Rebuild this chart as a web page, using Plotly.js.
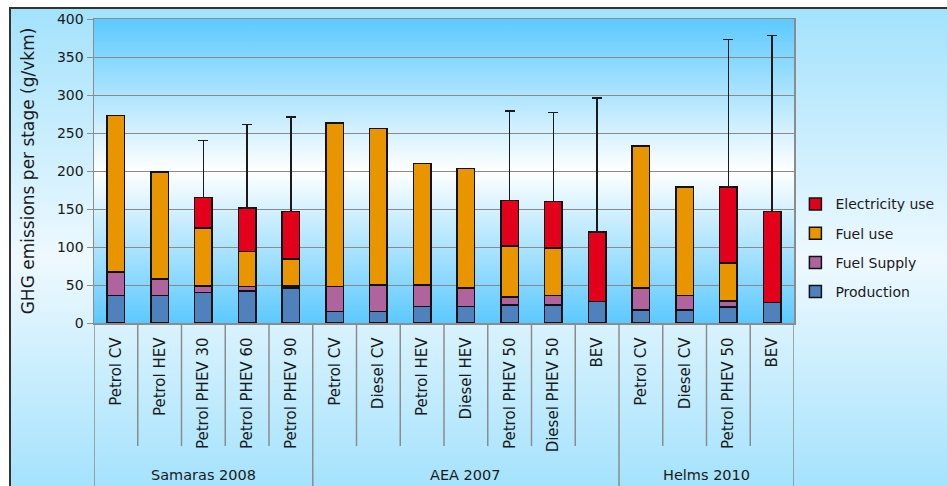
<!DOCTYPE html>
<html>
<head>
<meta charset="utf-8">
<script src="https://cdn.plot.ly/plotly-3.0.1.min.js"></script>
<style>
  html, body { margin:0; padding:0; background:#ffffff; }
  #wrap { position:relative; width:947px; height:486px; overflow:hidden; }
  #frame { position:absolute; left:9px; top:7px; width:940px; height:482px;
    border-left:2px solid #333; border-top:2px solid #333;
    background: linear-gradient(to bottom, #a3e2fc 0%, #eef9ff 52%, #a3e2fc 100%); }
  #plotbg { position:absolute; left:94px; top:19px; width:700px; height:304px;
    background: linear-gradient(to bottom, #5cc9fe 0%, #ffffff 50%, #5cc9fe 100%); }
  #chart { position:absolute; left:0; top:0; width:947px; height:486px; }
</style>
</head>
<body>
<div id="wrap">
  <div id="frame"></div>
  <div id="plotbg"></div>
  <div id="chart"></div>
</div>
<script>
const groups = ['Samaras 2008','Samaras 2008','Samaras 2008','Samaras 2008','Samaras 2008',
  'AEA 2007','AEA 2007','AEA 2007','AEA 2007','AEA 2007','AEA 2007','AEA 2007',
  'Helms 2010','Helms 2010','Helms 2010','Helms 2010'];
const categories = ['Petrol CV','Petrol HEV','Petrol PHEV 30','Petrol PHEV 60','Petrol PHEV 90',
  'Petrol CV','Diesel CV','Petrol HEV','Diesel HEV','Petrol PHEV 50','Diesel PHEV 50','BEV',
  'Petrol CV','Diesel CV','Petrol PHEV 50','BEV'];
const production  = [36,36,40,42,46, 15,15,22,22,24,24,28, 17,17,21,27];
const fuelSupply  = [31,22,9,6,3, 33,35,28,24,10,12,null, 29,19,8,null];
const fuelUse     = [206,141,76,46,35, 215,206,160,157,67,63,null, 187,143,50,null];
const electricity = [null,null,40,57,63, null,null,null,null,60,61,92, null,null,100,120];
const errorPlus   = [null,null,75,110,124, null,null,null,null,118,117,176, null,null,194,231];

const idx = categories.map((_, i) => i);
const lineStyle = {color:'#111111', width:1.5};

function barTrace(name, y, color, rank, extra) {
  return Object.assign({
    type:'bar', name:name, x:idx, y:y, legendgroup:name, legendrank:rank,
    marker:{color:color, line:lineStyle}, hoverinfo:'y+name'
  }, extra || {});
}

const traces = [
  barTrace('Production', production, '#4f81bd', 4),
  barTrace('Fuel Supply', fuelSupply, '#b0649e', 3),
  barTrace('Fuel use', fuelUse, '#e99500', 2),
  barTrace('Electricity use', electricity, '#e2001a', 1, {
    error_y:{type:'data', symmetric:false, array:errorPlus,
      arrayminus:errorPlus.map(v => v === null ? null : 0),
      color:'#1a1a1a', thickness:1.5, width:5}
  })
];

// separators below the axis, computed from the group array
const shapes = [];
const sepColor = '#8c8c8c';
for (let i = -1; i < categories.length; i++) {
  const b = i + 0.5;
  const isGroupEdge = i === -1 || i === categories.length - 1 || groups[i] !== groups[i+1];
  shapes.push({type:'line', xref:'x', yref:'paper', x0:b, x1:b, y0:0,
    y1: isGroupEdge ? -0.56 : -0.405, line:{color:sepColor, width:1.5}});
}

const groupNames = [...new Set(groups)];
const annotations = groupNames.map(g => {
  const ids = idx.filter(i => groups[i] === g);
  const mid = (ids[0] + ids[ids.length-1]) / 2;
  return {x:mid, xref:'x', y:-0.5, yref:'paper', yanchor:'middle', text:g,
    showarrow:false, font:{size:14.5, color:'#1a1a1a'}};
});

const layout = {
  width:947, height:486,
  margin:{l:94, r:153, t:19, b:163, pad:0, autoexpand:false},
  barmode:'stack', bargap:0.6,
  paper_bgcolor:'rgba(0,0,0,0)', plot_bgcolor:'rgba(0,0,0,0)',
  font:{family:'DejaVu Sans, sans-serif', size:14, color:'#1a1a1a'},
  showlegend:true,
  legend:{x:1.002, xanchor:'left', y:0.247, yanchor:'middle', traceorder:'grouped',
    tracegroupgap:8, bgcolor:'rgba(0,0,0,0)', font:{size:14, color:'#1a1a1a'}},
  xaxis:{range:[-0.5,15.5], tickmode:'array', tickvals:idx, ticktext:categories,
    tickangle:-90, ticks:'', showgrid:false, zeroline:false, showline:true,
    linecolor:sepColor, linewidth:1.5, mirror:true, tickfont:{size:15},
    ticklabelstandoff:7, fixedrange:true},
  yaxis:{range:[0,400], dtick:50, showgrid:true, gridcolor:'#8a8a8a', gridwidth:1,
    showline:true, linecolor:sepColor, linewidth:1.5, mirror:true, zeroline:false,
    ticks:'outside', ticklen:6, tickcolor:sepColor, tickfont:{size:14},
    title:{text:'GHG emissions per stage (g/vkm)', font:{size:17}, standoff:18}, fixedrange:true},
  shapes:shapes,
  annotations:annotations
};

Plotly.newPlot('chart', traces, layout, {displayModeBar:false, staticPlot:true});
</script>
</body>
</html>
